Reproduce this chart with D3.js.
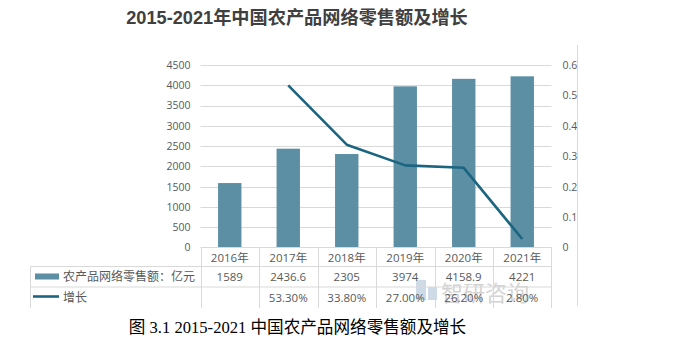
<!DOCTYPE html>
<html>
<head>
<meta charset="utf-8">
<script src="https://cdn.jsdelivr.net/npm/d3@7/dist/d3.min.js"></script>
<style>
html,body{margin:0;padding:0;background:#fff;}
svg{display:block;}
</style>
</head>
<body>
<svg id="chart" width="678" height="344"></svg>
<script>
const categories = ["2016年","2017年","2018年","2019年","2020年","2021年"];
const salesValues = [1589, 2436.6, 2305, 3974, 4158.9, 4221];
const salesLabels = ["1589","2436.6","2305","3974","4158.9","4221"];
const growthValues = [null, 0.533, 0.338, 0.27, 0.262, 0.028];
const growthLabels = ["", "53.30%", "33.80%", "27.00%", "26.20%", "2.80%"];
const leftTicks = [0,500,1000,1500,2000,2500,3000,3500,4000,4500];
const rightTicks = [0,0.1,0.2,0.3,0.4,0.5,0.6];
const seriesNames = ["农产品网络零售额：亿元", "增长"];
const titleText = "2015-2021年中国农产品网络零售额及增长";
const captionText = "图 3.1 2015-2021 中国农产品网络零售额及增长";
const watermarkText = "智研咨询";

const svg = d3.select("#chart");
const plot = {left: 200.5, right: 551.5, top: 65, bottom: 247.5};
const barColor = "#5d8fa4";
const lineColor = "#1b6580";
const gridColor = "#d9d9d9";
const textColor = "#595959";
const cjk = "'Noto Sans CJK SC', 'Noto Sans', sans-serif";

const x = d3.scaleBand().domain(categories).range([plot.left, plot.right]).paddingInner(0.6).paddingOuter(0.3);
const xc = d3.scaleBand().domain(categories).range([plot.left, plot.right]);
const yL = d3.scaleLinear().domain([0,4500]).range([plot.bottom, plot.top]);
const yR = d3.scaleLinear().domain([0,0.6]).range([plot.bottom, plot.top]);

// Title
svg.append("text").attr("x", 297).attr("y", 24).attr("text-anchor","middle")
  .attr("font-family", "'Liberation Sans', " + cjk).attr("font-weight","bold")
  .attr("font-size", 18.2).attr("fill","#404040").text(titleText);

// Gridlines
svg.append("g").selectAll("line").data(leftTicks.filter(d=>d>0)).join("line")
  .attr("x1", plot.left).attr("x2", plot.right)
  .attr("y1", d=>Math.round(yL(d))+0.5).attr("y2", d=>Math.round(yL(d))+0.5)
  .attr("stroke", gridColor).attr("stroke-width",1);

// Left axis
const leftAxis = d3.axisLeft(yL).tickValues(leftTicks).tickSize(0).tickPadding(10).tickFormat(d3.format("d"));
const gL = svg.append("g").attr("transform",`translate(${plot.left},0)`).call(leftAxis);
gL.select(".domain").remove();
gL.selectAll("text").attr("font-family","'Open Sans', 'Liberation Sans', sans-serif").attr("font-size",10.5).attr("fill",textColor);

// Right axis
const rightAxis = d3.axisRight(yR).tickValues(rightTicks).tickSize(0).tickPadding(11).tickFormat(d=>d===0?"0":d3.format(".1f")(d));
const gR = svg.append("g").attr("transform",`translate(${plot.right},0)`).call(rightAxis);
gR.select(".domain").remove();
gR.selectAll("text").attr("font-family","'Open Sans', 'Liberation Sans', sans-serif").attr("font-size",10.5).attr("fill",textColor);

// Bars
svg.append("g").selectAll("rect").data(salesValues).join("rect")
  .attr("x", (d,i)=>x(categories[i]))
  .attr("width", x.bandwidth())
  .attr("y", d=>yL(d))
  .attr("height", d=>plot.bottom - yL(d))
  .attr("fill", barColor);

// Line
const lineData = growthValues.map((v,i)=>({c:categories[i], v})).filter(d=>d.v!==null);
svg.append("path").datum(lineData)
  .attr("d", d3.line().x(d=>xc(d.c)+xc.bandwidth()/2).y(d=>yR(d.v)))
  .attr("fill","none").attr("stroke",lineColor).attr("stroke-width",2.6).attr("stroke-linejoin","round");

// Watermark (behind table text)
const wm = svg.append("g").attr("opacity",0.5);
wm.append("rect").attr("x",416).attr("y",280).attr("width",10).attr("height",20).attr("fill","#9fb7cf");
wm.append("rect").attr("x",428).attr("y",287).attr("width",9).attr("height",13).attr("fill","#9fb7cf");
wm.append("text").attr("x",441).attr("y",301).attr("font-size",22).attr("fill","#a8a8a8").attr("font-family",cjk).text(watermarkText);

// Table
const rowY = [247.5, 266.5, 287, 308];
const tableLeft = 30.5;
const tg = svg.append("g").attr("stroke", gridColor).attr("stroke-width",1).attr("fill","none");
tg.append("line").attr("x1",plot.left).attr("x2",plot.right).attr("y1",rowY[0]).attr("y2",rowY[0]);
tg.append("line").attr("x1",tableLeft).attr("x2",plot.right).attr("y1",rowY[1]).attr("y2",rowY[1]);
tg.append("line").attr("x1",tableLeft).attr("x2",plot.right).attr("y1",rowY[2]).attr("y2",rowY[2]);
tg.append("line").attr("x1",tableLeft).attr("x2",tableLeft).attr("y1",rowY[1]).attr("y2",rowY[3]);
const colEdges = categories.map(c=>Math.round(xc(c))+0.5).concat([plot.right]);
tg.selectAll("line.v").data(colEdges).join("line").attr("class","v")
  .attr("x1",d=>d).attr("x2",d=>d).attr("y1",rowY[0]).attr("y2",rowY[3]);

const numFont = "'Open Sans', 'Liberation Sans', " + cjk;
const tx = svg.append("g").attr("font-size",11.5).attr("fill",textColor).attr("text-anchor","middle").attr("font-family", numFont);
tx.selectAll("text.h").data(categories).join("text").attr("class","h")
  .attr("x", d=>xc(d)+xc.bandwidth()/2).attr("y", 261.5).text(d=>d);
tx.selectAll("text.s").data(salesLabels).join("text").attr("class","s")
  .attr("x", (d,i)=>xc(categories[i])+xc.bandwidth()/2).attr("y", 281).text(d=>d);
tx.selectAll("text.g").data(growthLabels).join("text").attr("class","g")
  .attr("x", (d,i)=>xc(categories[i])+xc.bandwidth()/2).attr("y", 302).text(d=>d);

// Legend in table
svg.append("rect").attr("x",35).attr("y",273.5).attr("width",24).attr("height",6).attr("fill",barColor);
svg.append("line").attr("x1",33).attr("x2",59).attr("y1",296.5).attr("y2",296.5).attr("stroke",lineColor).attr("stroke-width",2.6);
svg.append("text").attr("x",63).attr("y",281).attr("font-size",12).attr("fill",textColor).attr("font-family",cjk).text(seriesNames[0]);
svg.append("text").attr("x",63).attr("y",302).attr("font-size",12).attr("fill",textColor).attr("font-family",cjk).text(seriesNames[1]);

// chart frame right border
svg.append("line").attr("x1",577.5).attr("x2",577.5).attr("y1",45).attr("y2",306).attr("stroke","#d9d9d9");

// Caption
svg.append("text").attr("x",297.5).attr("y",333).attr("text-anchor","middle")
  .attr("font-size",16.6).attr("fill","#000").attr("font-family","'Liberation Serif', 'Noto Sans CJK SC', serif").text(captionText);
</script>
</body>
</html>
